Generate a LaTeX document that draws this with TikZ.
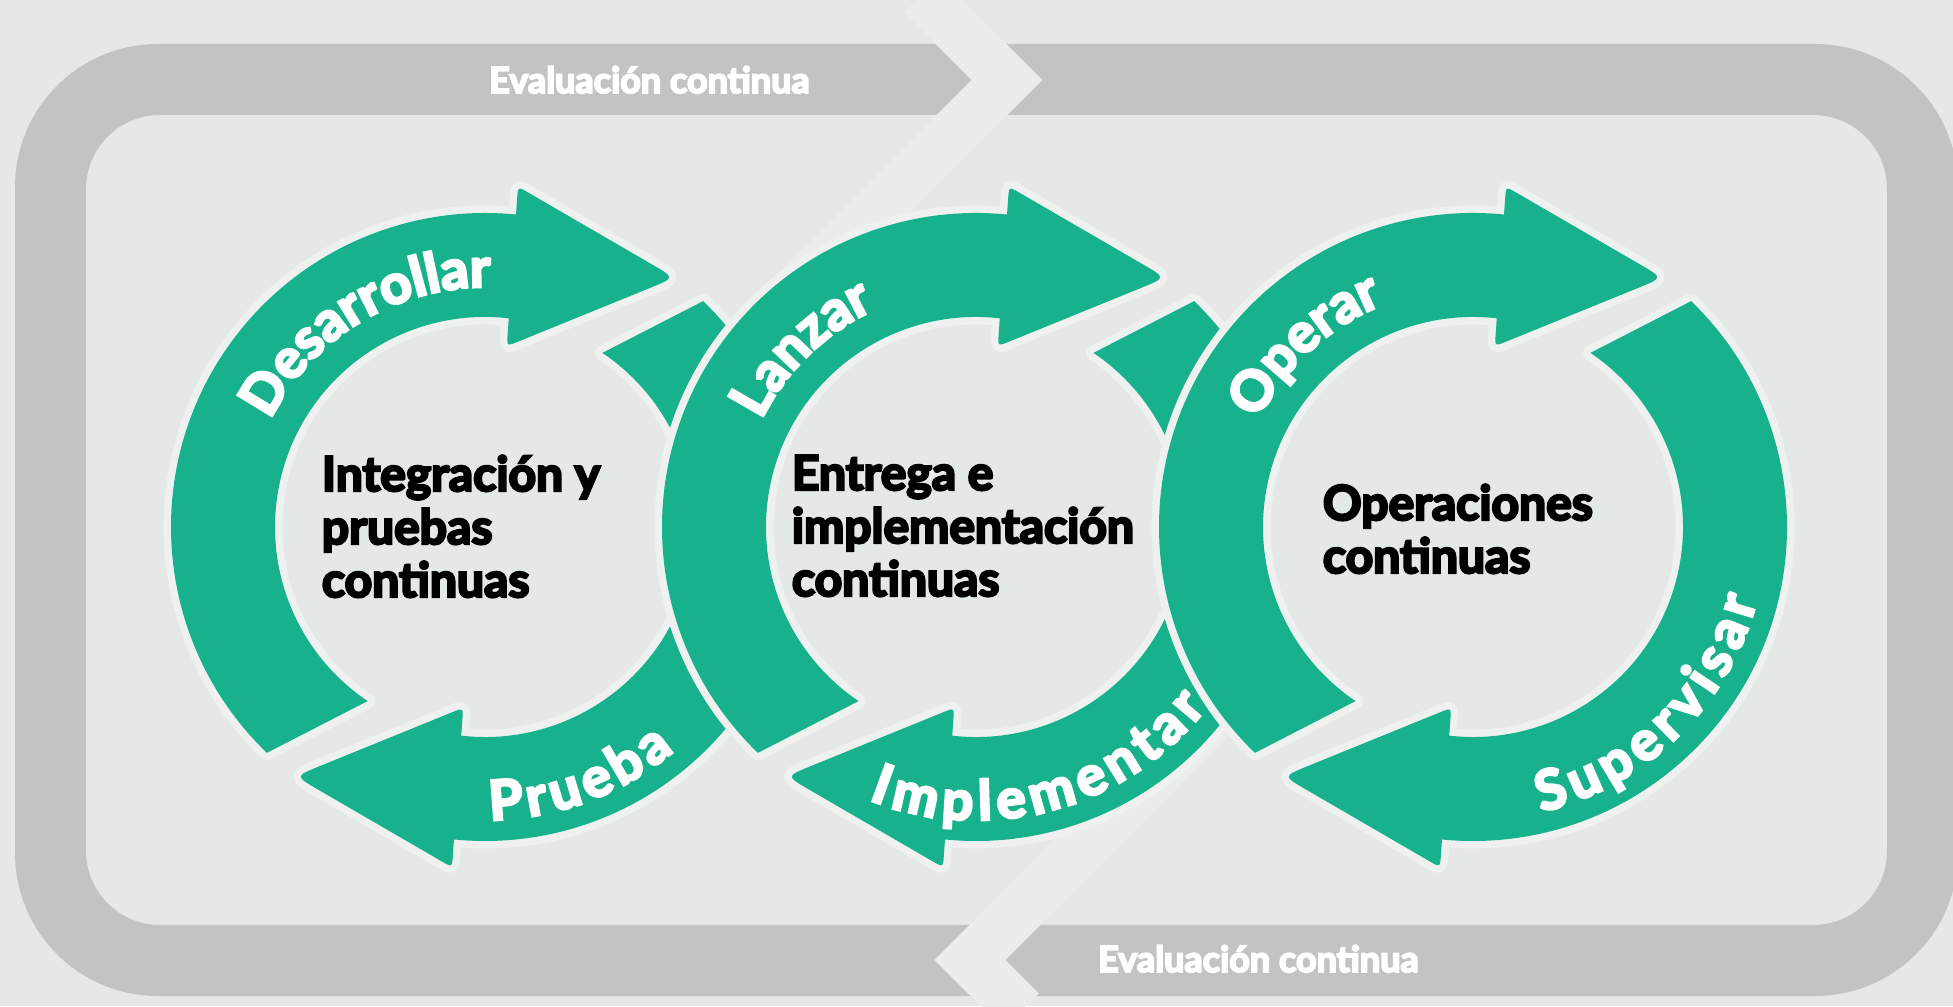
\documentclass[tikz,border=0pt]{standalone}
\usepackage{fontspec}
\setmainfont{Lato}[BoldFeatures={FakeBold=5}]
\usetikzlibrary{decorations.text}
\definecolor{bgc}{HTML}{E4E8E7}
\definecolor{bandc}{HTML}{C2C4C3}
\definecolor{stripec}{HTML}{EAEDEC}
\definecolor{haloc}{HTML}{EEF1F0}
\definecolor{greenc}{HTML}{17B28B}
\tikzset{
  halo/.style={draw=haloc, line width=15pt, line join=round},
  greenfill/.style={fill=greenc},
  holefill/.style={fill=bgc},
  stripe/.style={draw=stripec, line width=50pt, line join=miter},
  toplabel/.style={decorate, decoration={text along path, text color=white,
      text={|\bfseries\fontsize{55}{55}\selectfont|#1}}},
  botlabel/.style 2 args={decorate, decoration={text along path, text color=white,
      text={|\bfseries\fontsize{55}{55}\selectfont\fontdimen2\font=#2pt|#1}}},
  centerlabel/.style={anchor=base west, inner sep=0pt, text=black,
      font=\bfseries\fontsize{48}{53}\selectfont},
  bandlabel/.style={anchor=base west, inner sep=0pt, text=white,
      font=\bfseries\fontsize{36}{36}\selectfont}
}
% shaft of an arrow (relative to ring centre)
\newcommand\shaftpath{(226:314) arc[start angle=226, end angle=80, radius=314]
  -- (80:210) arc[start angle=80, end angle=236, radius=210] -- cycle}
% arrow head with rounded corners
\newcommand\headpath{(27.39,260.57) -- (32.13,328.40) .. controls (32.97,340.37) .. (43.35,334.34)
  -- (167.51,262.26) .. controls (189.99,249.20) .. (165.91,239.40)
  -- (32.93,185.29) .. controls (21.81,180.77) .. (22.65,192.74) -- cycle}
\newcommand\ringarrows{%
  \fill[holefill] (0,0) circle[radius=211];
  \path[halo] \shaftpath; \path[halo] \headpath;
  \path[greenfill] \shaftpath; \path[greenfill] \headpath;
  \begin{scope}[rotate=180]
    \path[halo] \shaftpath; \path[halo] \headpath;
    \path[greenfill] \shaftpath; \path[greenfill] \headpath;
  \end{scope}}
\begin{document}
\begin{tikzpicture}[x=1pt,y=1pt]
\useasboundingbox (0,0) rectangle (1953,1006);
\clip (0,0) rectangle (1953,1006);
\fill[bgc] (0,0) rectangle (1953,1006);
% frame band
\fill[bandc, even odd rule] [rounded corners=143pt] (15,10) rectangle (1958,962)
  [rounded corners=74pt] (86,81) rectangle (1887,891);
% chevron stripes
\draw[stripe] (922,1011) -- (1007,926) -- (777,696);
\draw[stripe] (1220,296) -- (970,46) -- (1021,-5);
% rings
\begin{scope}[shift={(485,479)}]\ringarrows\end{scope}
\begin{scope}[shift={(976,479)}]\ringarrows\end{scope}
\begin{scope}[shift={(1473,479)}]\ringarrows\end{scope}
% arc labels
\begin{scope}[shift={(485,479)}]
  \path[toplabel=Desarrollar] (153.5:240) arc[start angle=153.5, end angle=30, radius=240];
  \path[botlabel={P r u e b a}{5.3}] (271:293) arc[start angle=271, end angle=380, radius=293];
\end{scope}
\begin{scope}[shift={(976,479)}]
  \path[toplabel=Lanzar] (153.5:240) arc[start angle=153.5, end angle=30, radius=240];
  \path[botlabel={I m p l e m e n t a r}{6.3}] (248.5:293) arc[start angle=248.5, end angle=380, radius=293];
\end{scope}
\begin{scope}[shift={(1473,479)}]
  \path[toplabel=Operar] (153.5:240) arc[start angle=153.5, end angle=30, radius=240];
  \path[botlabel={S u p e r v i s a r}{6.6}] (283.5:293) arc[start angle=283.5, end angle=400, radius=293];
\end{scope}
% centre labels
\node[centerlabel] (ci) at (321.7,515) {\vtop{\hbox{Integración y}\hbox{pruebas}\hbox{continuas}}};
\node[centerlabel] (cd) at (791.7,516) {\vtop{\hbox{Entrega e}\hbox{implementación}\hbox{continuas}}};
\node[centerlabel] (co) at (1322.7,486) {\vtop{\hbox{Operaciones}\hbox{continuas}}};
% band labels
\node[bandlabel] (et) at (489,913) {Evaluación continua};
\node[bandlabel] (eb) at (1098,34) {Evaluación continua};
\end{tikzpicture}
\end{document}
